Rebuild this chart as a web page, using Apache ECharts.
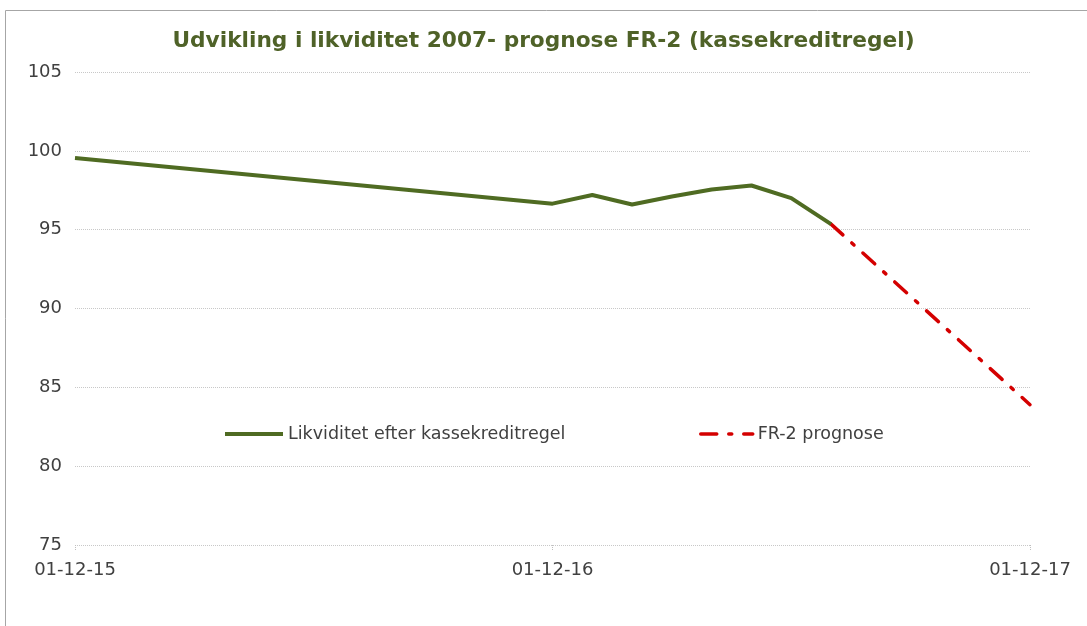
<!DOCTYPE html>
<html>
<head>
<meta charset="utf-8">
<script src="https://cdn.jsdelivr.net/npm/echarts@6/dist/echarts.min.js"></script>
<style>
  html, body { margin: 0; padding: 0; background: #fff; }
  #chart { width: 1087px; height: 626px; }
</style>
</head>
<body>
<div id="chart"></div>
<script>
// months counted from 01-12-15
var tickLabels = ['01-12-15', '01-12-16', '01-12-17'];
var likvMonths = [0, 12, 13, 14, 15, 16, 17, 18, 19];
var likvValues = [99.55, 96.65, 97.2, 96.6, 97.1, 97.55, 97.8, 97.0, 95.35];
var progMonths = [19, 24];
var progValues = [95.35, 83.9];

var myChart = echarts.init(document.getElementById('chart'));

function pairs(xs, ys) {
    return xs.map(function (x, i) { return [x, ys[i]]; });
}

var font = 'DejaVu Sans';

option = {
    animation: false,
    textStyle: { fontFamily: font },
    graphic: [{
        type: 'rect',
        shape: { x: 5.5, y: 10.5, width: 1100, height: 640 },
        style: { fill: 'none', stroke: '#a6a6a6', lineWidth: 1 }
    }],
    title: {
        text: 'Udvikling i likviditet 2007- prognose FR-2 (kassekreditregel)',
        left: 'center',
        top: 25,
        textStyle: { color: '#4f6228', fontSize: 21.7, fontWeight: 'bold', fontFamily: font }
    },
    legend: [{
        data: ['Likviditet efter kassekreditregel'],
        left: 218,
        top: 420,
        itemWidth: 58,
        itemHeight: 12,
        itemStyle: { opacity: 0 },
        lineStyle: { width: 4 },
        textStyle: { color: '#404040', fontSize: 17.5 }
    }, {
        data: ['FR-2 prognose'],
        left: 694,
        top: 420,
        itemWidth: 52,
        itemHeight: 12,
        itemStyle: { opacity: 0 },
        lineStyle: { width: 3.5 },
        textStyle: { color: '#404040', fontSize: 17.5 }
    }],
    grid: { left: 75, right: 57, top: 72, bottom: 81, containLabel: false },
    xAxis: {
        type: 'value',
        min: 0,
        max: 24,
        interval: 12,
        axisLine: { show: false },
        axisTick: { show: true, length: 6, lineStyle: { color: '#bfbfbf', type: 'dotted' } },
        splitLine: { show: false },
        axisLabel: {
            color: '#404040',
            fontSize: 18,
            margin: 16,
            formatter: function (v) { return tickLabels[v / 12]; }
        }
    },
    yAxis: {
        type: 'value',
        min: 75,
        max: 105,
        interval: 5,
        axisLine: { show: false },
        axisTick: { show: false },
        axisLabel: { color: '#404040', fontSize: 18, margin: 13 },
        splitLine: { lineStyle: { color: '#c8c8c8', type: 'dotted', width: 1 } }
    },
    series: [{
        name: 'Likviditet efter kassekreditregel',
        type: 'line',
        data: pairs(likvMonths, likvValues),
        showSymbol: false,
        symbol: 'none',
        lineStyle: { color: '#4f6b22', width: 4 },
        itemStyle: { color: '#4f6b22' },
        z: 3
    }, {
        name: 'FR-2 prognose',
        type: 'line',
        data: pairs(progMonths, progValues),
        showSymbol: false,
        symbol: 'none',
        lineStyle: { color: '#d40000', width: 3.5, type: [16, 12, 3, 12], cap: 'round' },
        itemStyle: { color: '#d40000' },
        z: 2
    }]
};

myChart.setOption(option);
</script>
</body>
</html>
